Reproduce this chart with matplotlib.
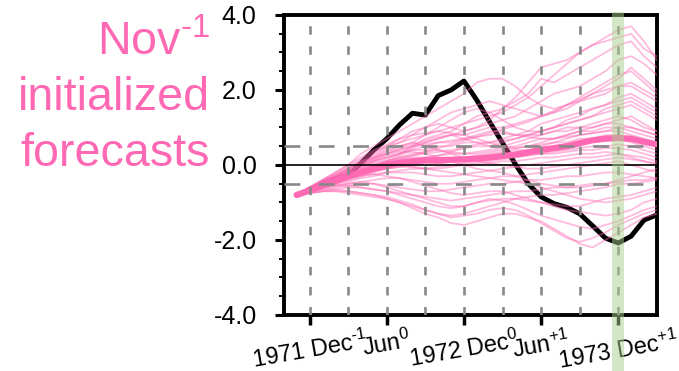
import numpy as np
import matplotlib.pyplot as plt

plt.rcParams['font.family'] = ['Liberation Sans', 'DejaVu Sans']
plt.rcParams['mathtext.fontset'] = 'custom'
plt.rcParams['mathtext.rm'] = 'Liberation Sans'
plt.rcParams['mathtext.it'] = 'Liberation Sans:italic'

# month index relative to Dec of year -1 (Nov-1 ... Mar+2)
lead = np.arange(-1, 28)

observed = [-0.80, -0.68, -0.50, -0.36, -0.28, 0.05, 0.40, 0.70, 1.07, 1.38,
            1.33, 1.85, 2.00, 2.24, 1.73, 1.15, 0.59, 0.02, -0.50, -0.85,
            -1.03, -1.13, -1.30, -1.62, -1.95, -2.08, -1.90, -1.47, -1.33]

ens_mean = [-0.80, -0.68, -0.55, -0.42, -0.30, -0.20, -0.10, 0.00, 0.06, 0.10,
            0.12, 0.13, 0.14, 0.15, 0.17, 0.20, 0.24, 0.28, 0.33, 0.40,
            0.45, 0.50, 0.58, 0.66, 0.70, 0.72, 0.70, 0.62, 0.55]

members = [
    [-0.8,-0.65,-0.5,-0.3,-0.1,0.1,0.3,0.5,0.6,0.7,0.8,0.9,1.0,1.1,1.2,1.3,1.4,1.6,1.8,2.1,2.4,2.7,3.0,3.2,3.4,3.6,3.7,3.3,2.8],
    [-0.8,-0.6,-0.45,-0.25,-0.05,0.15,0.35,0.5,0.7,0.9,1.0,1.1,1.0,0.9,1.0,1.2,1.5,1.8,2.2,2.6,2.7,2.8,3.0,3.2,3.3,3.4,3.5,3.1,2.9],
    [-0.8,-0.7,-0.55,-0.4,-0.2,0.0,0.2,0.3,0.4,0.5,0.7,0.8,0.9,1.1,1.3,1.4,1.5,1.7,1.9,2.3,2.2,2.4,2.6,2.8,3.0,3.2,3.3,2.9,2.6],
    [-0.8,-0.6,-0.4,-0.2,0.0,0.3,0.5,0.7,0.9,1.1,1.3,1.5,1.7,1.9,2.2,2.3,2.3,2.1,1.8,1.6,1.5,1.6,1.8,2.0,2.2,2.4,2.5,2.2,1.9],
    [-0.8,-0.65,-0.5,-0.35,-0.15,0.05,0.25,0.45,0.6,0.8,1.0,1.2,1.4,1.5,1.6,1.7,1.6,1.5,1.4,1.3,1.4,1.5,1.7,1.9,2.1,2.3,2.6,2.3,2.0],
    [-0.8,-0.7,-0.6,-0.45,-0.3,-0.1,0.1,0.2,0.3,0.5,0.6,0.7,0.8,0.9,1.0,1.1,1.2,1.3,1.5,1.7,1.9,2.0,2.1,2.3,2.5,2.8,2.9,2.7,2.4],
    [-0.8,-0.6,-0.4,-0.25,-0.1,0.1,0.2,0.4,0.5,0.6,0.8,1.0,1.2,1.4,1.5,1.4,1.2,1.0,0.9,0.9,1.0,1.2,1.3,1.5,1.6,1.8,1.9,1.7,1.5],
    [-0.8,-0.65,-0.55,-0.4,-0.25,-0.1,0.05,0.15,0.3,0.45,0.6,0.7,0.8,0.8,0.9,1.0,1.0,1.1,1.2,1.3,1.4,1.6,1.7,1.8,1.9,2.1,2.2,2.0,1.8],
    [-0.8,-0.6,-0.45,-0.3,-0.15,0.0,0.15,0.3,0.45,0.55,0.65,0.75,0.8,0.7,0.6,0.6,0.7,0.8,0.9,1.1,1.2,1.3,1.4,1.5,1.6,1.7,1.8,1.6,1.4],
    [-0.8,-0.7,-0.55,-0.45,-0.3,-0.2,-0.05,0.1,0.25,0.4,0.5,0.6,0.6,0.7,0.8,0.9,0.9,0.8,0.8,0.9,1.0,1.1,1.2,1.3,1.4,1.5,1.6,1.4,1.2],
    [-0.8,-0.6,-0.45,-0.3,-0.2,-0.05,0.1,0.2,0.3,0.4,0.4,0.5,0.5,0.6,0.6,0.5,0.5,0.6,0.7,0.8,0.9,1.0,1.0,1.1,1.2,1.3,1.2,1.0,0.9],
    [-0.8,-0.65,-0.5,-0.4,-0.3,-0.15,0.0,0.1,0.2,0.25,0.3,0.35,0.4,0.45,0.5,0.5,0.6,0.7,0.8,0.8,0.9,0.9,1.0,1.0,1.1,1.1,1.0,0.9,0.8],
    [-0.8,-0.7,-0.6,-0.5,-0.35,-0.2,-0.1,0.0,0.1,0.15,0.2,0.25,0.3,0.3,0.35,0.4,0.45,0.5,0.6,0.7,0.7,0.8,0.9,0.9,1.0,1.0,0.9,0.8,0.7],
    [-0.8,-0.6,-0.45,-0.35,-0.2,-0.1,0.0,0.1,0.2,0.3,0.35,0.4,0.35,0.3,0.3,0.35,0.4,0.45,0.5,0.55,0.6,0.7,0.8,0.85,0.9,0.9,0.8,0.7,0.6],
    [-0.8,-0.7,-0.6,-0.5,-0.4,-0.3,-0.2,-0.1,0.0,0.05,0.1,0.1,0.15,0.2,0.25,0.3,0.35,0.4,0.4,0.45,0.5,0.55,0.6,0.65,0.7,0.7,0.6,0.5,0.4],
    [-0.8,-0.65,-0.5,-0.35,-0.25,-0.15,-0.05,0.0,0.05,0.1,0.1,0.05,0.0,0.05,0.1,0.15,0.2,0.3,0.4,0.5,0.6,0.6,0.7,0.7,0.8,0.8,0.7,0.6,0.5],
    [-0.8,-0.7,-0.55,-0.45,-0.35,-0.25,-0.15,-0.1,-0.05,0.0,0.0,0.05,0.1,0.1,0.15,0.2,0.2,0.25,0.3,0.3,0.35,0.4,0.45,0.5,0.5,0.55,0.5,0.4,0.3],
    [-0.8,-0.6,-0.5,-0.4,-0.3,-0.2,-0.1,-0.05,0.0,-0.05,-0.1,-0.1,-0.05,0.0,0.05,0.1,0.15,0.2,0.25,0.3,0.3,0.35,0.4,0.4,0.45,0.45,0.4,0.3,0.2],
    [-0.8,-0.7,-0.6,-0.5,-0.45,-0.35,-0.3,-0.2,-0.15,-0.1,-0.1,-0.05,0.0,0.0,0.0,0.05,0.1,0.1,0.15,0.2,0.2,0.25,0.3,0.3,0.35,0.3,0.25,0.2,0.1],
    [-0.8,-0.65,-0.55,-0.45,-0.4,-0.3,-0.25,-0.2,-0.2,-0.2,-0.25,-0.3,-0.3,-0.25,-0.2,-0.15,-0.1,-0.05,0.0,0.05,0.1,0.15,0.2,0.2,0.25,0.3,0.2,0.1,0.0],
    [-0.8,-0.7,-0.6,-0.55,-0.5,-0.45,-0.4,-0.35,-0.35,-0.4,-0.45,-0.5,-0.5,-0.45,-0.4,-0.35,-0.3,-0.3,-0.25,-0.2,-0.15,-0.1,-0.05,0.0,0.05,0.1,0.0,-0.1,-0.2],
    [-0.8,-0.7,-0.65,-0.6,-0.55,-0.5,-0.5,-0.55,-0.6,-0.65,-0.7,-0.7,-0.65,-0.6,-0.55,-0.5,-0.5,-0.45,-0.4,-0.4,-0.35,-0.3,-0.3,-0.25,-0.2,-0.2,-0.25,-0.3,-0.35],
    [-0.8,-0.75,-0.7,-0.65,-0.6,-0.6,-0.65,-0.7,-0.75,-0.8,-0.85,-0.9,-0.95,-0.9,-0.85,-0.8,-0.75,-0.7,-0.7,-0.65,-0.6,-0.6,-0.55,-0.5,-0.5,-0.45,-0.4,-0.4,-0.35],
    [-0.8,-0.7,-0.6,-0.55,-0.5,-0.45,-0.5,-0.6,-0.7,-0.8,-0.9,-1.0,-1.1,-1.1,-1.0,-0.95,-0.9,-0.9,-0.95,-1.0,-1.05,-1.1,-1.1,-1.0,-0.9,-0.85,-0.8,-0.7,-0.6],
    [-0.8,-0.75,-0.7,-0.7,-0.75,-0.8,-0.85,-0.9,-1.0,-1.1,-1.2,-1.3,-1.35,-1.3,-1.2,-1.1,-1.0,-0.9,-0.85,-0.8,-0.8,-0.75,-0.7,-0.65,-0.6,-0.5,-0.5,-0.45,-0.4],
    [-0.8,-0.7,-0.65,-0.65,-0.7,-0.75,-0.8,-0.9,-1.0,-1.15,-1.3,-1.4,-1.55,-1.6,-1.5,-1.4,-1.3,-1.3,-1.4,-1.5,-1.7,-1.9,-2.1,-2.2,-2.0,-1.8,-1.6,-1.4,-1.3],
    [-0.8,-0.75,-0.7,-0.7,-0.7,-0.75,-0.8,-0.85,-0.95,-1.05,-1.2,-1.3,-1.4,-1.35,-1.3,-1.2,-1.15,-1.2,-1.35,-1.55,-1.75,-1.95,-2.05,-1.95,-1.8,-1.6,-1.45,-1.3,-1.2],
    [-0.8,-0.7,-0.6,-0.55,-0.55,-0.6,-0.65,-0.7,-0.8,-0.9,-1.0,-1.1,-1.15,-1.1,-1.0,-0.9,-0.95,-1.05,-1.2,-1.35,-1.45,-1.55,-1.65,-1.7,-1.6,-1.5,-1.35,-1.2,-1.1],
    [-0.8,-0.65,-0.5,-0.4,-0.3,-0.25,-0.25,-0.3,-0.35,-0.45,-0.55,-0.65,-0.75,-0.8,-0.75,-0.7,-0.7,-0.8,-0.9,-1.0,-1.1,-1.2,-1.25,-1.3,-1.35,-1.3,-1.2,-1.0,-0.9],
    [-0.8,-0.6,-0.4,-0.2,0.0,0.2,0.4,0.55,0.7,0.8,0.85,0.9,0.85,0.8,0.7,0.6,0.5,0.45,0.5,0.6,0.7,0.8,0.9,1.0,1.1,1.2,1.3,1.1,0.9],
    [-0.8,-0.65,-0.45,-0.3,-0.1,0.05,0.2,0.35,0.5,0.6,0.5,0.4,0.3,0.2,0.1,0.05,0.0,-0.05,-0.1,-0.1,-0.05,0.0,0.05,0.1,0.15,0.2,0.15,0.1,0.05],
    [-0.8,-0.7,-0.6,-0.45,-0.3,-0.2,-0.1,0.05,0.15,0.25,0.35,0.45,0.55,0.65,0.75,0.85,0.95,1.05,1.15,1.3,1.45,1.6,1.75,1.9,2.0,2.1,2.1,1.9,1.7],
    [-0.8,-0.6,-0.5,-0.35,-0.2,-0.05,0.1,0.25,0.35,0.35,0.3,0.2,0.1,0.0,-0.1,-0.15,-0.2,-0.3,-0.4,-0.5,-0.55,-0.6,-0.6,-0.55,-0.5,-0.4,-0.3,-0.2,-0.1],
    [-0.8,-0.7,-0.55,-0.4,-0.3,-0.15,0.0,0.1,0.15,0.2,0.2,0.25,0.35,0.45,0.55,0.6,0.65,0.7,0.8,0.9,1.0,1.1,1.2,1.3,1.5,1.6,1.7,1.5,1.3],
    [-0.8,-0.65,-0.5,-0.4,-0.3,-0.2,-0.15,-0.1,-0.05,-0.05,-0.1,-0.15,-0.2,-0.25,-0.3,-0.35,-0.4,-0.45,-0.5,-0.6,-0.7,-0.8,-0.9,-0.95,-1.0,-0.95,-0.9,-0.8,-0.7],
    [-0.8,-0.6,-0.45,-0.3,-0.15,0.0,0.15,0.3,0.4,0.5,0.55,0.6,0.65,0.7,0.75,0.8,0.85,0.8,0.75,0.7,0.7,0.75,0.8,0.85,0.9,1.0,1.0,0.9,0.8],
]

tick_pos = [0, 6, 12, 18, 24]
tick_labels = ['1971 Dec$^{\\text{-1}}$', 'Jun$^{\\text{0}}$', '1972 Dec$^{\\text{0}}$',
               'Jun$^{\\text{+1}}$', '1973 Dec$^{\\text{+1}}$']
grid_months = [0, 3, 6, 9, 12, 15, 18, 21, 24]
target_month = 24

pink = '#ff69b4'

fig = plt.figure(figsize=(6.79, 3.71), dpi=100)
ax = fig.add_axes([0.418, 0.151, 0.5494, 0.8086])

ax.plot(lead, observed, color='black', lw=3.5, zorder=2, solid_capstyle='round')
for m in members:
    ax.plot(lead, m, color=pink, lw=1.3, alpha=0.45, zorder=3)
ax.plot(lead, ens_mean, color=pink, lw=4.5, zorder=4, solid_capstyle='round')

for g in grid_months:
    ax.axvline(g, color='#888888', lw=1.9, dashes=(3.2, 4.4), zorder=5)
for h in (0.5, -0.5):
    ax.axhline(h, color='#888888', lw=1.9, dashes=(6, 7), zorder=5)
ax.axhline(0, color='black', lw=1.2, zorder=5)

ax.axvspan(target_month - 0.47, target_month + 0.47, ymin=-0.19, ymax=1.01,
           color='#a9d18e', alpha=0.5, lw=0, zorder=6, clip_on=False)

ax.set_xlim(-2, 27)
ax.set_ylim(-4, 4)
ax.set_xticks(tick_pos)
ax.set_xticklabels(tick_labels, rotation=10, ha='center')
ax.set_yticks([-4, -2, 0, 2, 4])
ax.set_yticklabels(['%.1f' % v for v in [-4, -2, 0, 2, 4]])
ax.set_yticks(np.arange(-4, 4.01, 0.5), minor=True)
ax.tick_params(axis='y', which='major', length=6.5, width=2.2, pad=13, labelsize=18)
ax.tick_params(axis='y', which='minor', length=3.6, width=1.4)
ax.tick_params(axis='x', which='major', length=7, width=2.5, pad=2, labelsize=17)
for s in ax.spines.values():
    s.set_linewidth(2.8)

fig.text(210/679, 1 - 55/371, 'Nov$^{\\text{-1}}$', ha='right', va='baseline', fontsize=33.6, color=pink)
fig.text(210/679, 1 - 110/371, 'initialized', ha='right', va='baseline', fontsize=33.6, color=pink)
fig.text(210/679, 1 - 166/371, 'forecasts', ha='right', va='baseline', fontsize=33.6, color=pink)

fig.savefig('out.png', dpi=100)
